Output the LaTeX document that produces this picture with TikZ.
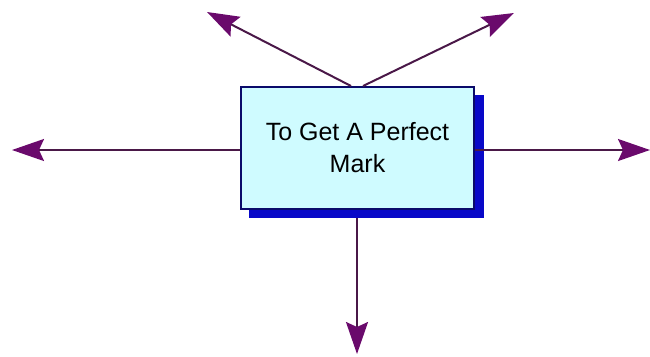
\documentclass[tikz,border=0pt]{standalone}
\usepackage{fontspec}
\setmainfont{Liberation Sans}
\usetikzlibrary{arrows.meta}
\definecolor{linecol}{HTML}{4A1848}
\definecolor{headcol}{HTML}{6A0A6C}
\definecolor{boxfill}{HTML}{CFFBFF}
\definecolor{boxedge}{HTML}{0A0A6A}
\definecolor{shadowcol}{HTML}{0808C8}
\begin{document}
\begin{tikzpicture}[x=1pt,y=-1pt,
  conn/.style={draw=linecol, line width=2pt,
    -{Stealth[length=32pt,width=22pt,inset=5pt,color=headcol,fill=headcol]}},
  goal/.style={draw=boxedge, line width=2pt, fill=boxfill,
    minimum width=233pt, minimum height=122pt, inner sep=0pt,
    align=center, font=\fontsize{25}{32}\selectfont}]
\useasboundingbox (0,0) rectangle (650,356);
\fill[shadowcol] (249,95) rectangle (484,218);
\node[goal] (g) at (357.5,148) {To Get A Perfect\\Mark};
\coordinate (tl) at (207,12);
\coordinate (tr) at (514,13);
\coordinate (l) at (12,150);
\coordinate (r) at (650,150);
\coordinate (d) at (357,354);
\coordinate (tp1) at (351,86);
\coordinate (tp2) at (363,86);
\draw[conn] (tp1) -- (tl);
\draw[conn] (tp2) -- (tr);
\draw[conn] (g.west |- l) -- (l);
\draw[conn] (g.east |- r) ++(9,0) -- (r);
\draw[linecol, line width=2pt] (g.east |- r) -- ++(9,0);
\draw[conn] (357,218) -- (d);
\end{tikzpicture}
\end{document}
